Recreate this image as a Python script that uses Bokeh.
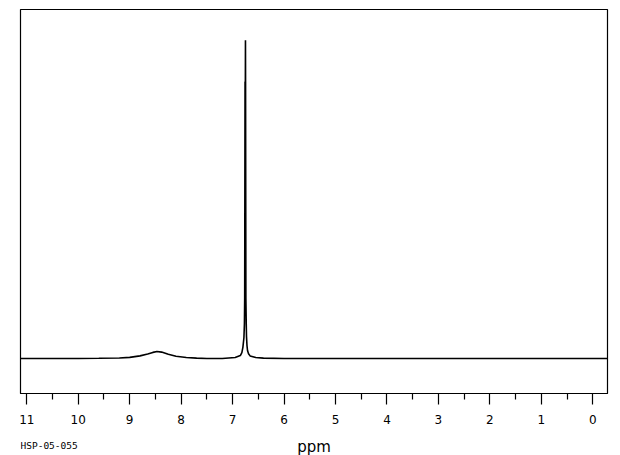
from bokeh.plotting import figure
from bokeh.models import Range1d, FixedTicker
from bokeh.layouts import column
from bokeh.core.properties import value
from bokeh.embed import file_html
from bokeh.resources import INLINE

# spectrum: chemical shift (ppm) and relative intensity
ppm = [11.12, 10.5, 10.0, 9.6, 9.2, 9.0, 8.8, 8.65, 8.55, 8.47, 8.38, 8.25, 8.1, 7.9, 7.7, 7.5,
       7.2, 6.95, 6.85, 6.82, 6.80, 6.78, 6.77, 6.765, 6.758, 6.752, 6.75, 6.748, 6.742,
       6.735, 6.73, 6.72, 6.71, 6.69, 6.66, 6.55, 6.4, 6.0, 5.0, 4.0, 3.0, 2.0, 1.0, 0.0, -0.29]
intensity = [0.0, 0.0, 0.0, 0.05, 0.15, 0.35, 0.8, 1.4, 1.9, 2.2, 2.0, 1.3, 0.7, 0.3, 0.1, 0.0,
             0.0, 0.3, 0.9, 1.8, 3.5, 6.5, 11.0, 19.0, 87.0, 87.0, 100.0, 87.0, 19.0,
             11.0, 7.0, 4.0, 2.5, 1.5, 0.8, 0.3, 0.1, 0.0, 0.0, 0.0, 0.0, 0.0, 0.0, 0.0, 0.0]

major_ticks = [0, 1, 2, 3, 4, 5, 6, 7, 8, 9, 10, 11]
minor_ticks = [0.5, 1.5, 2.5, 3.5, 4.5, 5.5, 6.5, 7.5, 8.5, 9.5, 10.5]
x_label = "ppm"
sample_id = "HSP-05-055"

xr = Range1d(11.122, -0.286)

p = figure(width=620, height=428, output_backend="svg", toolbar_location=None,
           x_range=xr, y_range=Range1d(-11.02, 109.7),
           min_border_left=20, min_border_right=13, min_border_top=9, min_border_bottom=35)
p.line(ppm, intensity, line_color="black", line_width=1.6)

p.grid.visible = False
p.yaxis.visible = False
p.outline_line_color = "black"
p.outline_line_width = 1.2
p.outline_line_alpha = 1.0

ax = p.xaxis[0]
ax.ticker = FixedTicker(ticks=major_ticks, minor_ticks=minor_ticks)
ax.major_tick_in = 0
ax.major_tick_out = 11
ax.minor_tick_in = 0
ax.minor_tick_out = 6
ax.major_tick_line_color = "black"
ax.minor_tick_line_color = "black"
ax.major_tick_line_width = 1.2
ax.minor_tick_line_width = 1.2
ax.axis_line_color = "black"
ax.major_label_text_font = "DejaVu Sans"
ax.major_label_text_font_size = "12px"
ax.major_label_text_color = "black"
ax.major_label_standoff = 10

# strip under the axis holding the axis title and the sample id
p2 = figure(width=620, height=27, output_backend="svg", toolbar_location=None,
            x_range=xr, y_range=Range1d(27, 0), x_axis_type=None, y_axis_type=None,
            min_border_left=20, min_border_right=13, min_border_top=0, min_border_bottom=0)
p2.outline_line_color = None
p2.text(x=[(xr.start + xr.end) / 2], y=[18.7], text=[x_label], text_align="center",
        text_baseline="alphabetic", text_font=value("DejaVu Sans"), text_font_size="15px",
        text_color="black")
p2.text(x=[xr.start], y=[17.3], text=[sample_id], text_align="left",
        text_baseline="middle", text_font=value("DejaVu Sans Mono"), text_font_size="9.5px",
        text_color="black")

layout = column(p, p2, spacing=0)
open("out.html", "w").write(file_html(layout, INLINE))
